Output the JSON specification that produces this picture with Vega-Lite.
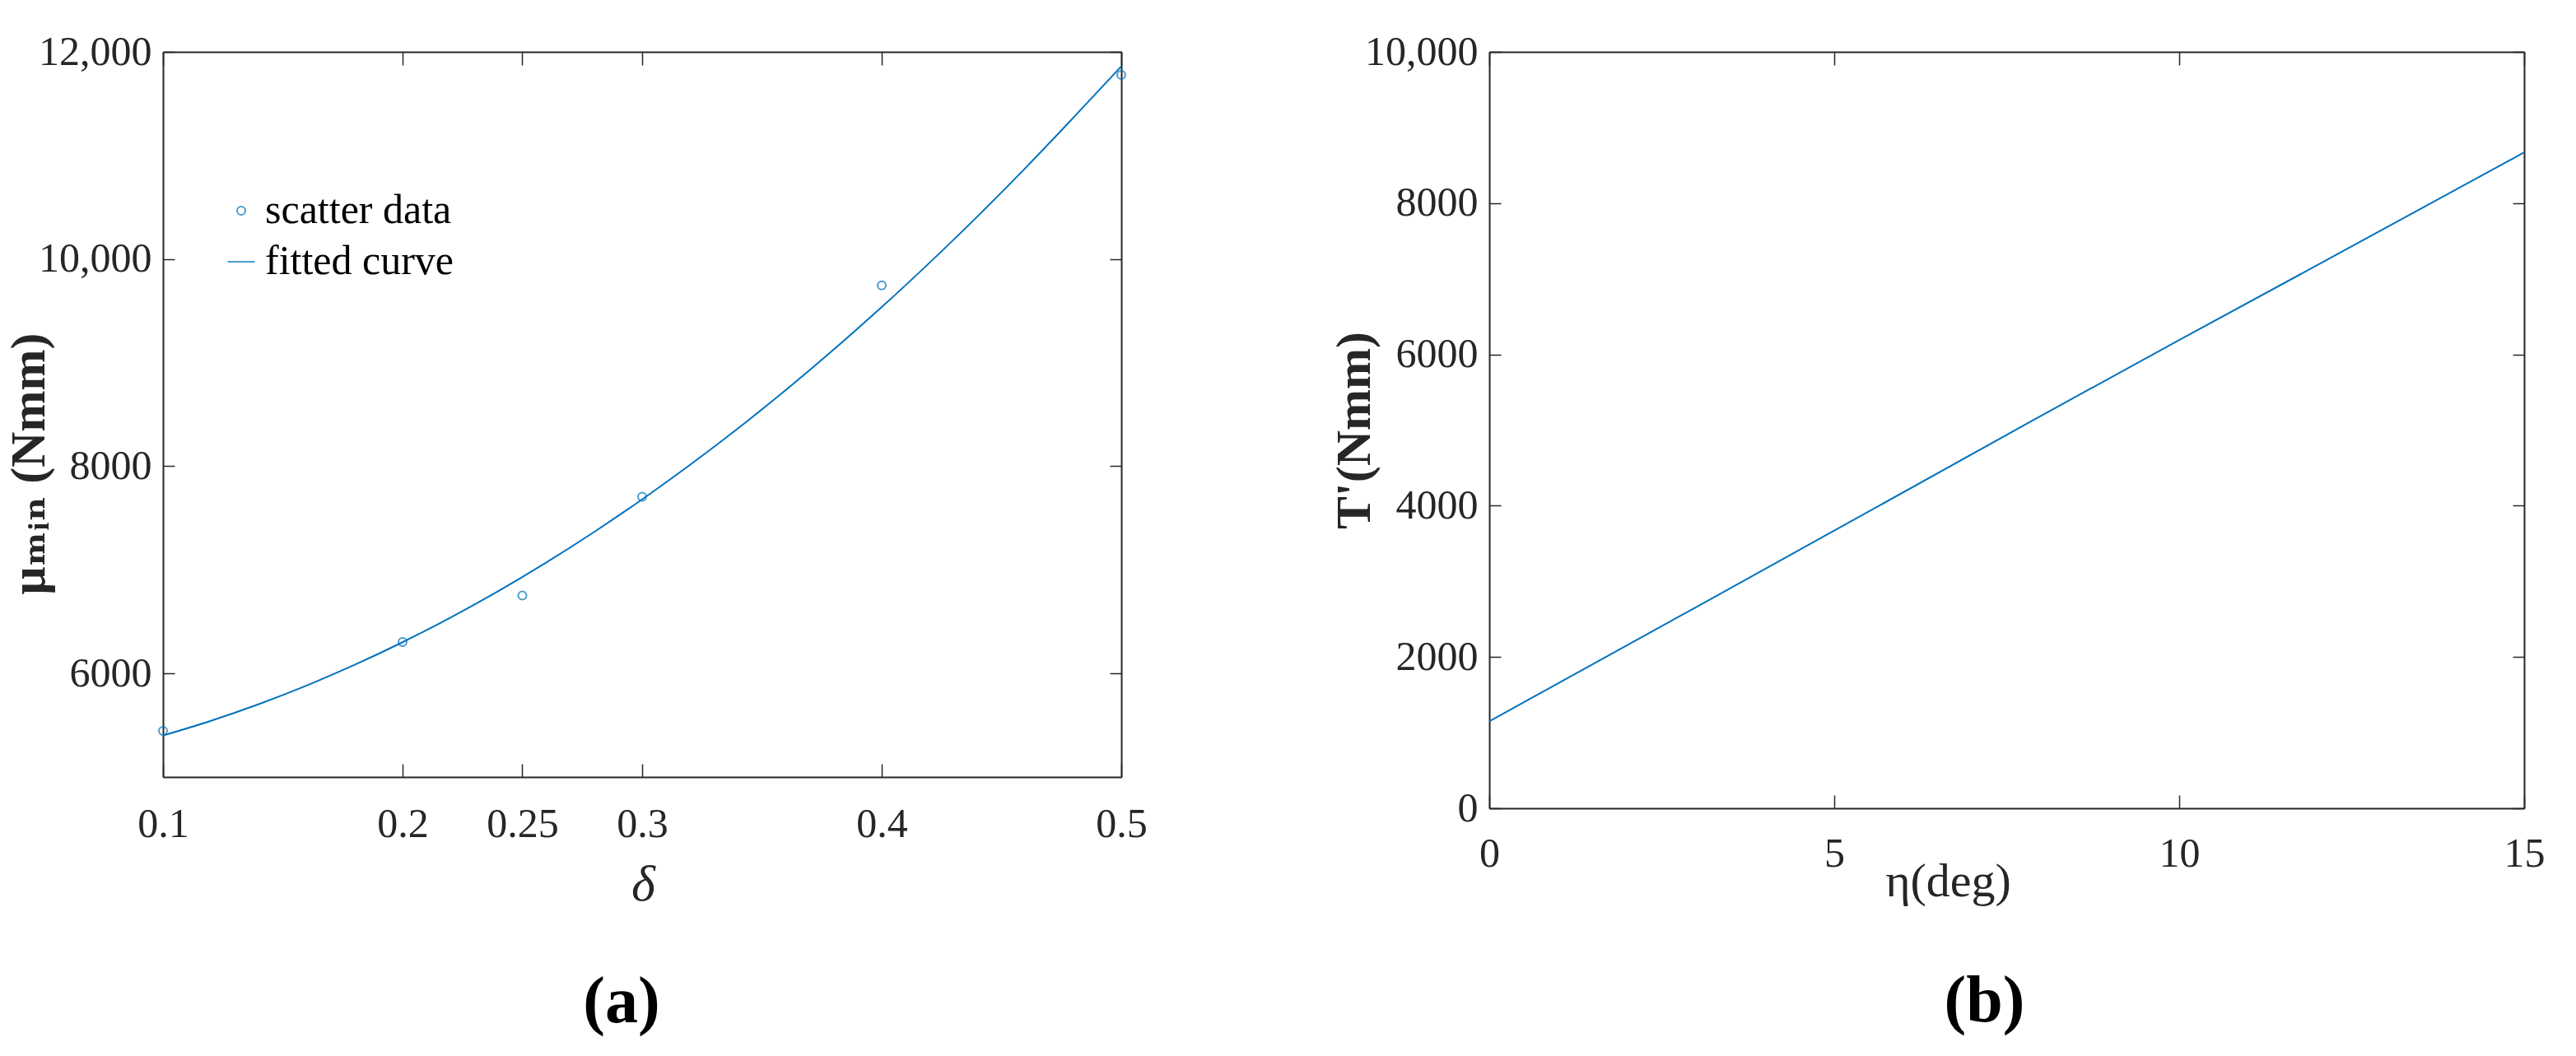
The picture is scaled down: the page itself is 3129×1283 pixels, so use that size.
{
  "$schema": "https://vega.github.io/schema/vega-lite/v6.json",
  "background": "white",
  "padding": {"left": 5, "top": 38, "right": 5, "bottom": 5},
  "config": {
    "font": "Liberation Serif",
    "view": {"stroke": null},
    "axis": {
      "grid": false,
      "labelFont": "Liberation Serif",
      "labelFontSize": 50,
      "labelColor": "#262626",
      "domainColor": "#262626",
      "tickColor": "#262626",
      "domainWidth": 2,
      "tickWidth": 1.5,
      "labelFlush": false,
      "labelOverlap": false,
      "titleColor": "#262626",
      "titleFont": "Liberation Serif, DejaVu Serif"
    }
  },
  "datasets": {
    "scatter": [
      {"delta": 0.1, "mu": 5445, "series": "scatter data"},
      {"delta": 0.2, "mu": 6303, "series": "scatter data"},
      {"delta": 0.25, "mu": 6752, "series": "scatter data"},
      {"delta": 0.3, "mu": 7705, "series": "scatter data"},
      {"delta": 0.4, "mu": 9745, "series": "scatter data"},
      {"delta": 0.5, "mu": 11777, "series": "scatter data"}
    ],
    "fit": [
      {"delta": 0.10, "mu": 5400},
      {"delta": 0.12, "mu": 5542},
      {"delta": 0.14, "mu": 5703},
      {"delta": 0.16, "mu": 5883},
      {"delta": 0.18, "mu": 6083},
      {"delta": 0.20, "mu": 6301},
      {"delta": 0.22, "mu": 6539},
      {"delta": 0.24, "mu": 6795},
      {"delta": 0.26, "mu": 7071},
      {"delta": 0.28, "mu": 7366},
      {"delta": 0.30, "mu": 7680},
      {"delta": 0.32, "mu": 8013},
      {"delta": 0.34, "mu": 8365},
      {"delta": 0.36, "mu": 8736},
      {"delta": 0.38, "mu": 9127},
      {"delta": 0.40, "mu": 9536},
      {"delta": 0.42, "mu": 9965},
      {"delta": 0.44, "mu": 10412},
      {"delta": 0.46, "mu": 10879},
      {"delta": 0.48, "mu": 11365},
      {"delta": 0.50, "mu": 11860}
    ],
    "torque": [
      {"eta": 0, "T": 1150},
      {"eta": 3, "T": 2660},
      {"eta": 5, "T": 3670},
      {"eta": 8, "T": 5190},
      {"eta": 10, "T": 6190},
      {"eta": 12, "T": 7180},
      {"eta": 15, "T": 8670}
    ]
  },
  "spacing": 447,
  "bounds": "flush",
  "hconcat": [
    {
      "width": 1164,
      "height": 881,
      "title": {"text": "(a)", "orient": "bottom", "anchor": "middle", "frame": "group", "font": "Liberation Serif", "fontSize": 80, "fontWeight": "bold", "color": "black", "dx": -25, "offset": 74},
      "resolve": {"axis": {"x": "independent", "y": "independent"}},
      "layer": [
        {
          "data": {"name": "fit"},
          "mark": {"type": "line", "color": "#0072BD", "strokeWidth": 2, "interpolate": "monotone"},
          "encoding": {
            "x": {"field": "delta", "type": "quantitative", "scale": {"domain": [0.1, 0.5], "nice": false, "zero": false},
              "axis": {"orient": "bottom", "values": [0.1, 0.2, 0.25, 0.3, 0.4, 0.5], "labelExpr": "datum.value + ''", "tickSize": -16, "labelPadding": 48,
                "title": "δ", "titleFontSize": 62, "titleFontStyle": "italic", "titleFontWeight": "normal", "titleBaseline": "alphabetic", "titleX": 583, "titleY": 149}},
            "y": {"field": "mu", "type": "quantitative", "scale": {"domain": [5000, 12000], "nice": false, "zero": false},
              "axis": {"orient": "left", "values": [6000, 8000, 10000, 12000], "labelExpr": "datum.value >= 10000 ? format(datum.value, ',') : format(datum.value, 'd')", "tickSize": -14, "labelPadding": 28,
                "title": "μₘᵢₙ (Nmm)", "titleFontSize": 60, "titleFontWeight": "bold", "titleAngle": 270, "titleBaseline": "bottom", "titleX": -132, "titleY": 500}}
          }
        },
        {
          "data": {"name": "scatter"},
          "mark": {"type": "point", "filled": false, "strokeWidth": 2},
          "encoding": {
            "x": {"field": "delta", "type": "quantitative", "scale": {"domain": [0.1, 0.5], "nice": false, "zero": false},
              "axis": {"orient": "top", "values": [0.1, 0.2, 0.25, 0.3, 0.4, 0.5], "labels": false, "tickSize": -16, "title": null}},
            "y": {"field": "mu", "type": "quantitative", "scale": {"domain": [5000, 12000], "nice": false, "zero": false},
              "axis": {"orient": "right", "values": [6000, 8000, 10000, 12000], "labels": false, "tickSize": -14, "title": null}},
            "color": {"field": "series", "type": "nominal", "scale": {"domain": ["scatter data", "fitted curve"], "range": ["#0072BD", "#0072BD"]},
              "legend": {"title": null, "orient": "none", "legendX": 70, "legendY": 168, "labelFontSize": 50, "labelFont": "Liberation Serif", "labelColor": "black", "labelLimit": 0, "symbolStrokeWidth": 2, "rowPadding": 12, "labelOffset": 4, "padding": 0}},
            "shape": {"field": "series", "type": "nominal", "scale": {"domain": ["scatter data", "fitted curve"], "range": ["circle", "stroke"]}},
            "size": {"field": "series", "type": "nominal", "scale": {"domain": ["scatter data", "fitted curve"], "range": [100, 1089]}}
          }
        }
      ]
    },
    {
      "width": 1257,
      "height": 919,
      "title": {"text": "(b)", "orient": "bottom", "anchor": "middle", "frame": "group", "font": "Liberation Serif", "fontSize": 80, "fontWeight": "bold", "color": "black", "dx": -27, "offset": 78},
      "resolve": {"axis": {"x": "independent", "y": "independent"}},
      "layer": [
        {
          "data": {"name": "torque"},
          "mark": {"type": "line", "color": "#0072BD", "strokeWidth": 2},
          "encoding": {
            "x": {"field": "eta", "type": "quantitative", "scale": {"domain": [0, 15], "nice": false},
              "axis": {"orient": "bottom", "values": [0, 5, 10, 15], "tickSize": -16, "labelPadding": 46,
                "title": "η(deg)", "titleFontSize": 58, "titleFontWeight": "normal", "titleBaseline": "alphabetic", "titleX": 557, "titleY": 106}},
            "y": {"field": "T", "type": "quantitative", "scale": {"domain": [0, 10000], "nice": false},
              "axis": {"orient": "left", "values": [0, 2000, 4000, 6000, 8000, 10000], "labelExpr": "datum.value >= 10000 ? format(datum.value, ',') : format(datum.value, 'd')", "tickSize": -14, "labelPadding": 28,
                "title": "T'(Nmm)", "titleFontSize": 60, "titleFontWeight": "bold", "titleAngle": 270, "titleBaseline": "bottom", "titleX": -133}}
          }
        },
        {
          "data": {"name": "torque"},
          "mark": {"type": "line", "strokeOpacity": 0},
          "encoding": {
            "x": {"field": "eta", "type": "quantitative", "scale": {"domain": [0, 15], "nice": false},
              "axis": {"orient": "top", "values": [0, 5, 10, 15], "labels": false, "tickSize": -16, "title": null}},
            "y": {"field": "T", "type": "quantitative", "scale": {"domain": [0, 10000], "nice": false},
              "axis": {"orient": "right", "values": [0, 2000, 4000, 6000, 8000, 10000], "labels": false, "tickSize": -14, "title": null}}
          }
        }
      ]
    }
  ]
}
